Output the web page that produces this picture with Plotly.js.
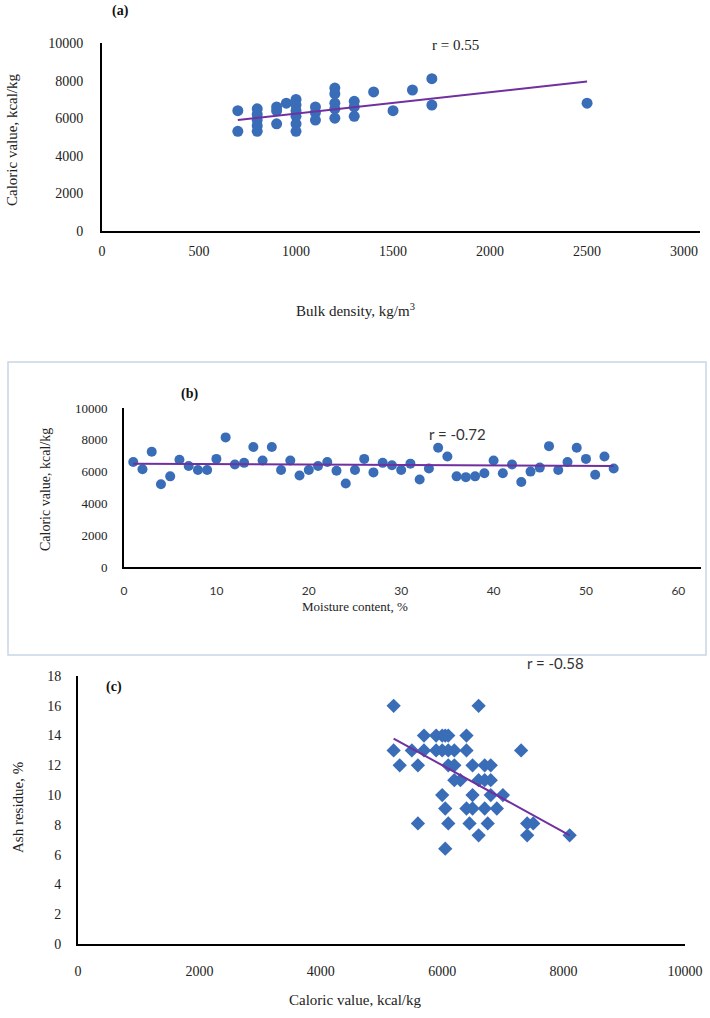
<!DOCTYPE html>
<html><head><meta charset="utf-8">
<script src="https://cdn.plot.ly/plotly-3.0.1.min.js"></script>
<style>html,body{margin:0;padding:0;background:#fff}#chart{width:710px;height:1018px}</style>
</head><body><div id="chart"></div>
<script>
// Panel (a): bulk density vs caloric value
var bulkDensity = [700,700, 800,800,800,800,800, 900,900,900, 950,
  1000,1000,1000,1000,1000,1000, 1100,1100,1100, 1200,1200,1200,1200,1200,
  1300,1300,1300, 1400, 1500, 1600, 1700,1700, 2500];
var calA = [6400,5300, 6500,6200,5900,5600,5300, 6600,6400,5700, 6800,
  7000,6700,6400,6100,5700,5300, 6600,6300,5900, 7600,7300,6800,6500,6000,
  6900,6600,6100, 7400, 6400, 7500, 8100,6700, 6800];
var trendA_x = [700, 2500];
var trendA_y = [5900, 7950];

// Panel (b): moisture content vs caloric value
var moisture = [];
for (var i = 1; i <= 53; i++) moisture.push(i);
var calB = [6600,6150,7250,5200,5700,6750,6350,6100,6100,6800,8150,6450,6550,7550,6700,7550,
  6100,6700,5750,6100,6350,6600,6050,5250,6100,6800,5950,6550,6400,6100,6500,5500,6200,7500,
  6950,5700,5650,5700,5900,6700,5900,6450,5350,6000,6250,7600,6100,6600,7500,6800,5800,6950,6200];
var trendB_x = [1, 53];
var trendB_y = [6500, 6350];

// Panel (c): caloric value vs ash residue
var calC = [5200,6600, 5200,5300,5500, 5700,5900,6000,6050,6100,6400,
  5700,5900,6000,6100,6200,6400,7300, 5600,6100,6200,6500,6700,6800,
  6200,6300,6600,6700,6800, 6000,6500,6800,7000,
  6050,6400,6500,6700,6900, 5600,6100,6450,6750,7400,7500,
  6600,7400,8100, 6050];
var ashC = [16,16, 13,12,13, 14,14,14,14,14,14,
  13,13,13,13,13,13,13, 12,12,12,12,12,12,
  11,11,11,11,11, 10,10,10,10,
  9.1,9.1,9.1,9.1,9.1, 8.1,8.1,8.1,8.1,8.1,8.1,
  7.3,7.3,7.3, 6.4];
var trendC_x = [5200, 8100];
var trendC_y = [13.8, 7.3];

var ticksA_x = [0,500,1000,1500,2000,2500,3000];
var ticksA_y = [0,2000,4000,6000,8000,10000];
var ticksB_x = [0,10,20,30,40,50,60];
var ticksB_y = [0,2000,4000,6000,8000,10000];
var ticksC_x = [0,2000,4000,6000,8000,10000];
var ticksC_y = [0,2,4,6,8,10,12,14,16,18];

var blue = '#3A6DB8';
var purple = '#7030A0';
var serif = 'Liberation Serif, Times New Roman, serif';
var sans = 'Lato, Open Sans, sans-serif';

var W = 710, H = 1018;
function fx(px){ return px / W; }
function fy(py){ return 1 - py / H; }
function txt(arr){ return arr.map(function(v){ return String(v); }); }

var traces = [
  {x: bulkDensity, y: calA, mode: 'markers', type: 'scatter', xaxis: 'x', yaxis: 'y',
   marker: {color: blue, size: 11, symbol: 'circle'}},
  {x: trendA_x, y: trendA_y, mode: 'lines', type: 'scatter', xaxis: 'x', yaxis: 'y',
   line: {color: purple, width: 2}},
  {x: moisture, y: calB, mode: 'markers', type: 'scatter', xaxis: 'x2', yaxis: 'y2',
   marker: {color: blue, size: 10, symbol: 'circle'}},
  {x: trendB_x, y: trendB_y, mode: 'lines', type: 'scatter', xaxis: 'x2', yaxis: 'y2',
   line: {color: purple, width: 2}},
  {x: calC, y: ashC, mode: 'markers', type: 'scatter', xaxis: 'x3', yaxis: 'y3',
   marker: {color: blue, size: 11, symbol: 'diamond'}},
  {x: trendC_x, y: trendC_y, mode: 'lines', type: 'scatter', xaxis: 'x3', yaxis: 'y3',
   line: {color: purple, width: 2}}
];

function ax(extra){
  var base = {showline: true, linecolor: '#000', linewidth: 2, ticks: '', showgrid: false,
    zeroline: false, fixedrange: true, tickmode: 'array'};
  for (var k in extra) base[k] = extra[k];
  return base;
}

function ann(text, px, py, font, angle){
  var a = {text: text, x: fx(px), y: fy(py), xref: 'paper', yref: 'paper', showarrow: false,
    xanchor: 'center', yanchor: 'middle', font: font};
  if (angle !== undefined) a.textangle = angle;
  return a;
}

var layout = {
  width: W, height: H, margin: {l: 0, r: 0, t: 0, b: 0},
  paper_bgcolor: '#fff', plot_bgcolor: 'rgba(0,0,0,0)', showlegend: false,
  xaxis: ax({domain: [fx(102), fx(700)], range: [0, 3082], tickvals: ticksA_x, ticktext: txt(ticksA_x), anchor: 'y',
    tickfont: {family: serif, size: 14, color: '#222'}, ticklabelstandoff: 6}),
  yaxis: ax({domain: [fy(231), fy(43)], range: [0, 10000], tickvals: ticksA_y, ticktext: txt(ticksA_y), anchor: 'x',
    tickfont: {family: serif, size: 14, color: '#222'}, ticklabelstandoff: 14}),
  xaxis2: ax({domain: [fx(124), fx(701)], range: [0, 62.45], tickvals: ticksB_x, ticktext: txt(ticksB_x), anchor: 'y2',
    tickfont: {family: sans, size: 12, color: '#333'}, ticklabelstandoff: 12}),
  yaxis2: ax({domain: [fy(567), fy(408)], range: [0, 10000], tickvals: ticksB_y, ticktext: txt(ticksB_y), anchor: 'x2',
    tickfont: {family: serif, size: 13, color: '#222'}, ticklabelstandoff: 12}),
  xaxis3: ax({domain: [fx(78), fx(685)], range: [0, 10000], tickvals: ticksC_x, ticktext: txt(ticksC_x), anchor: 'y3',
    tickfont: {family: serif, size: 14, color: '#222'}, ticklabelstandoff: 13}),
  yaxis3: ax({domain: [fy(944), fy(676)], range: [0, 18], tickvals: ticksC_y, ticktext: txt(ticksC_y), anchor: 'x3',
    tickfont: {family: serif, size: 14, color: '#222'}, ticklabelstandoff: 12}),
  shapes: [
    {type: 'rect', xref: 'paper', yref: 'paper', x0: fx(8), x1: fx(706), y0: fy(655), y1: fy(362),
     line: {color: '#C9D5E6', width: 1.5}, fillcolor: 'rgba(0,0,0,0)'}
  ],
  annotations: [
    ann('<b>(a)</b>', 120, 11, {family: serif, size: 14, color: '#111'}),
    ann('r = 0.55', 455, 45, {family: serif, size: 15, color: '#222'}),
    ann('Caloric value, kcal/kg', 12, 140, {family: serif, size: 15, color: '#222'}, -90),
    ann('Bulk density, kg/m<sup>3</sup>', 355, 310, {family: serif, size: 15, color: '#222'}),

    ann('<b>(b)</b>', 190, 394, {family: serif, size: 14, color: '#111'}),
    ann('r = -0.72', 457, 434, {family: sans, size: 15, color: '#333'}),
    ann('Caloric value, kcal/kg', 45, 490, {family: serif, size: 14, color: '#222'}, -90),
    ann('Moisture content, %', 355, 606, {family: serif, size: 13, color: '#222'}),

    ann('<b>(c)</b>', 114, 687, {family: serif, size: 14, color: '#111'}),
    ann('r = -0.58', 555, 663, {family: sans, size: 15, color: '#333'}),
    ann('Ash residue, %', 18, 808, {family: serif, size: 15, color: '#222'}, -90),
    ann('Caloric value, kcal/kg', 355, 1000, {family: serif, size: 15, color: '#222'})
  ]
};

Plotly.newPlot('chart', traces, layout, {staticPlot: true, displayModeBar: false});
</script></body></html>
